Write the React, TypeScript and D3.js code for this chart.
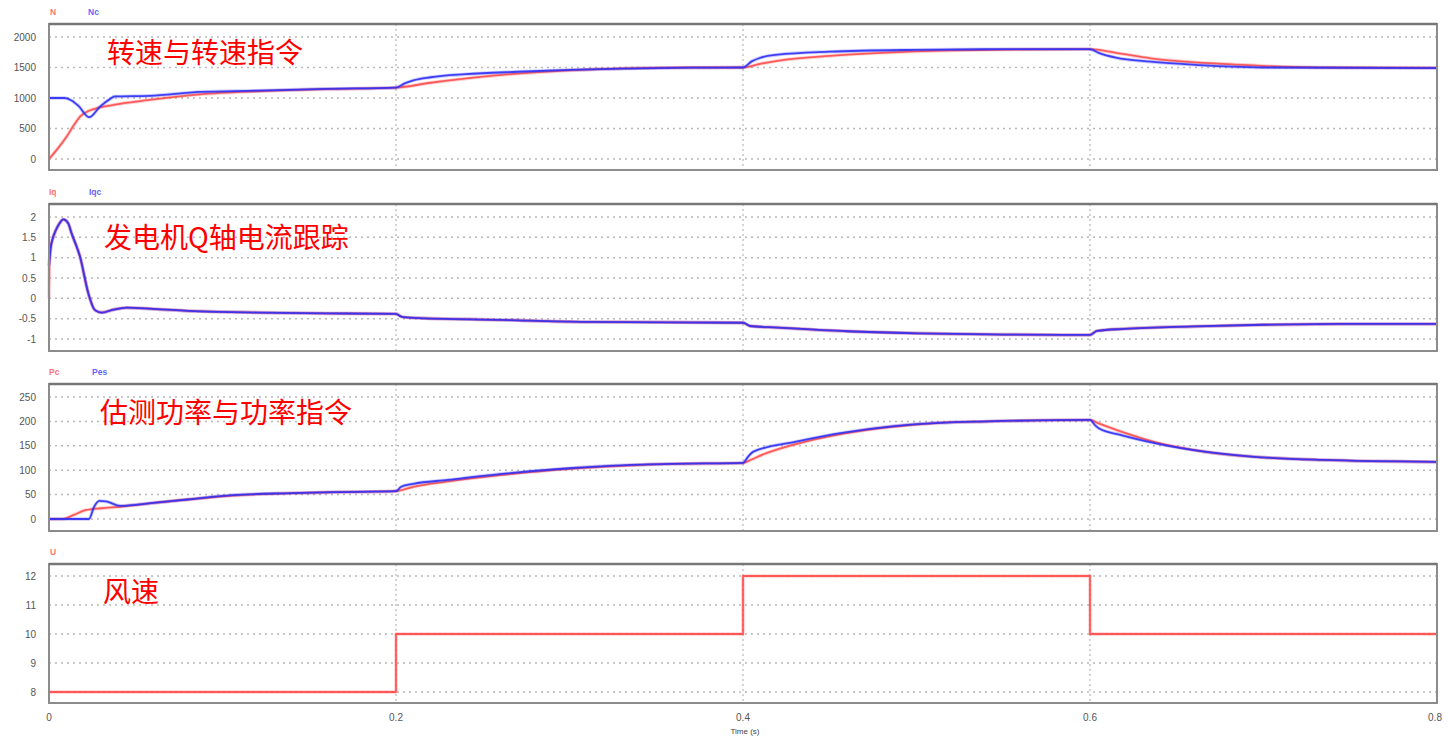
import * as d3 from "d3";

type Pt = [number, number];

// time axis
const timeTicks = [0, 0.2, 0.4, 0.6, 0.8];
const timeTickLabels = ["0", "0.2", "0.4", "0.6", "0.8"];

// speed N and its command Nc
const speedN: Pt[] = [
  [0, 0], [0.005, 170], [0.01, 360], [0.014, 540], [0.018, 700], [0.023, 790],
  [0.03, 850], [0.04, 900], [0.058, 970], [0.087, 1060], [0.12, 1110], [0.16, 1145],
  [0.2, 1170], [0.22, 1250], [0.25, 1350], [0.28, 1420], [0.31, 1465], [0.34, 1490],
  [0.37, 1500], [0.4, 1500], [0.41, 1560], [0.42, 1610], [0.45, 1690], [0.48, 1740],
  [0.52, 1780], [0.56, 1795], [0.6, 1800], [0.615, 1740], [0.635, 1650], [0.663, 1579],
  [0.682, 1552], [0.711, 1513], [0.74, 1500], [0.8, 1495],
];
const speedNc: Pt[] = [
  [0, 1000], [0.009, 1000], [0.013, 960], [0.017, 870], [0.0232, 685], [0.0294, 858],
  [0.035, 980], [0.038, 1025], [0.058, 1035], [0.087, 1100], [0.12, 1120], [0.16, 1150],
  [0.2, 1170], [0.205, 1240], [0.21, 1290], [0.22, 1340], [0.24, 1390], [0.27, 1430],
  [0.3, 1460], [0.33, 1480], [0.36, 1495], [0.4, 1500], [0.405, 1600], [0.41, 1660],
  [0.42, 1710], [0.45, 1760], [0.5, 1790], [0.55, 1800], [0.6, 1800], [0.605, 1740],
  [0.615, 1660], [0.635, 1595], [0.663, 1540], [0.682, 1513], [0.7, 1500], [0.8, 1490],
];

// q-axis current Iq and its command Iqc
const currentIq: Pt[] = [
  [0, 0], [0.0002, 0.8], [0.001, 1.25], [0.002, 1.45], [0.004, 1.68], [0.006, 1.84],
  [0.0083, 1.94], [0.011, 1.85], [0.013, 1.6], [0.0179, 1.02], [0.0227, 0.12],
  [0.0265, -0.29], [0.0304, -0.35], [0.037, -0.28], [0.0448, -0.23], [0.06, -0.26],
  [0.087, -0.32], [0.12, -0.35], [0.16, -0.37], [0.2, -0.38], [0.203, -0.45],
  [0.21, -0.48], [0.26, -0.53], [0.31, -0.58], [0.4, -0.6], [0.404, -0.68], [0.42, -0.72],
  [0.46, -0.81], [0.5, -0.86], [0.55, -0.89], [0.6, -0.9], [0.604, -0.8], [0.62, -0.75],
  [0.66, -0.69], [0.7, -0.65], [0.75, -0.63], [0.8, -0.63],
];
const currentIqc: Pt[] = [
  [0, 0.8], [0.001, 1.25], [0.002, 1.45], [0.004, 1.68], [0.006, 1.84],
  [0.0083, 1.94], [0.011, 1.85], [0.013, 1.6], [0.0179, 1.02], [0.0227, 0.12],
  [0.0265, -0.29], [0.0304, -0.35], [0.037, -0.28], [0.0448, -0.23], [0.06, -0.26],
  [0.087, -0.32], [0.12, -0.35], [0.16, -0.37], [0.2, -0.38], [0.203, -0.45],
  [0.21, -0.48], [0.26, -0.53], [0.31, -0.58], [0.4, -0.6], [0.404, -0.68], [0.42, -0.72],
  [0.46, -0.81], [0.5, -0.86], [0.55, -0.89], [0.6, -0.9], [0.604, -0.8], [0.62, -0.75],
  [0.66, -0.69], [0.7, -0.65], [0.75, -0.63], [0.8, -0.63],
];

// power command Pc and estimated power Pes
const powerPc: Pt[] = [
  [0, 0], [0.008, 0], [0.014, 8], [0.021, 18], [0.03, 22], [0.041, 25], [0.06, 33],
  [0.08, 40], [0.106, 48], [0.14, 53], [0.164, 55], [0.2, 57], [0.21, 66], [0.23, 77],
  [0.26, 90], [0.3, 103], [0.33, 109], [0.36, 113], [0.4, 115], [0.405, 122], [0.41, 130],
  [0.43, 153], [0.458, 175], [0.486, 189], [0.513, 197], [0.541, 200], [0.6, 203],
  [0.605, 196], [0.618, 179], [0.638, 157], [0.666, 138], [0.693, 128], [0.734, 121],
  [0.8, 117],
];
const powerPes: Pt[] = [
  [0, 0], [0.023, 0], [0.026, 25], [0.029, 37], [0.033, 36], [0.041, 27], [0.06, 33],
  [0.08, 40], [0.106, 49], [0.14, 53], [0.164, 55], [0.2, 57], [0.203, 66], [0.21, 72],
  [0.23, 80], [0.26, 92], [0.3, 104], [0.33, 110], [0.36, 113], [0.4, 115], [0.403, 128],
  [0.406, 138], [0.43, 158], [0.458, 177], [0.486, 190], [0.513, 197], [0.541, 200],
  [0.6, 203], [0.603, 192], [0.605, 186], [0.618, 172], [0.638, 155], [0.666, 138],
  [0.693, 128], [0.734, 121], [0.8, 117],
];

// wind speed U
const windU: Pt[] = [
  [0, 8], [0.2, 8], [0.2, 10], [0.4, 10], [0.4, 12], [0.6, 12], [0.6, 10], [0.8, 10],
];

const speedTicks = [0, 500, 1000, 1500, 2000];
const currentTicks = [-1, -0.5, 0, 0.5, 1, 1.5, 2];
const powerTicks = [0, 50, 100, 150, 200, 250];
const windTicks = [8, 9, 10, 11, 12];

const RED = "#ff4545";
const BLUE = "#2f2ff5";

const panels = [
  {
    title: "转速与转速指令", titleX: 107, titleY: 63,
    top: 24, bottom: 170, tickLo: 159, tickHi: 37, ticks: speedTicks,
    names: ["N", "Nc"], nameX: [50, 88], smooth: true,
    series: [speedN, speedNc],
  },
  {
    title: "发电机Q轴电流跟踪", titleX: 104, titleY: 248,
    top: 204, bottom: 351, tickLo: 339, tickHi: 217, ticks: currentTicks,
    names: ["Iq", "Iqc"], nameX: [49, 89], smooth: true,
    series: [currentIq, currentIqc],
  },
  {
    title: "估测功率与功率指令", titleX: 100, titleY: 423,
    top: 384, bottom: 531, tickLo: 519, tickHi: 397, ticks: powerTicks,
    names: ["Pc", "Pes"], nameX: [49, 92], smooth: true,
    series: [powerPc, powerPes],
  },
  {
    title: "风速", titleX: 103, titleY: 602,
    top: 564, bottom: 703, tickLo: 692, tickHi: 576, ticks: windTicks,
    names: ["U"], nameX: [50], smooth: false,
    series: [windU],
  },
];

const W = 1448;
const H = 738;
const left = 49;
const right = 1437;

export default function App() {
  const x = d3.scaleLinear().domain([0, 0.8]).range([left, right]);

  return (
    <svg
      width={W}
      height={H}
      style={{ position: "absolute", left: 0, top: 0, background: "#fff" }}
      fontFamily="Liberation Sans, Arial, sans-serif"
    >
      {panels.map((p, pi) => {
        const lo = p.ticks[0];
        const hi = p.ticks[p.ticks.length - 1];
        const y = d3.scaleLinear().domain([lo, hi]).range([p.tickLo, p.tickHi]);
        const line = d3
          .line<Pt>()
          .x(d => x(d[0]))
          .y(d => y(d[1]))
          .curve(p.smooth ? d3.curveMonotoneX : d3.curveLinear);
        return (
          <g key={pi}>
            {/* legend names */}
            {p.names.map((n, i) => (
              <text
                key={n}
                x={p.nameX[i]}
                y={p.top - 9}
                fontSize={8.5}
                fontWeight="bold"
                fill={i === 0 ? RED : BLUE}
                opacity={0.75}
              >
                {n}
              </text>
            ))}
            {/* horizontal grid */}
            {p.ticks.map(t => (
              <line
                key={"h" + t}
                x1={left}
                x2={right}
                y1={y(t)}
                y2={y(t)}
                stroke="#b8b8b8"
                strokeWidth={1.5}
                strokeDasharray="2,4"
              />
            ))}
            {/* vertical grid */}
            {timeTicks.slice(1, -1).map(t => (
              <line
                key={"v" + t}
                x1={x(t)}
                x2={x(t)}
                y1={p.top}
                y2={p.bottom}
                stroke="#a8a8a8"
                strokeWidth={1}
                strokeDasharray="2,3"
              />
            ))}
            {/* y tick labels */}
            {p.ticks.map(t => (
              <text
                key={"t" + t}
                x={36}
                y={y(t)}
                dy="0.35em"
                textAnchor="end"
                fontSize={10}
                fill="#555"
              >
                {t}
              </text>
            ))}
            {/* series: light halo under each line, then the line */}
            {p.series.map((s, i) => (
              <g key={"s" + i}>
                <path
                  d={line(s) ?? ""}
                  fill="none"
                  stroke={i === 0 ? RED : BLUE}
                  strokeWidth={3.5}
                  strokeOpacity={0.25}
                  strokeLinejoin="round"
                />
                <path
                  d={line(s) ?? ""}
                  fill="none"
                  stroke={i === 0 ? RED : BLUE}
                  strokeWidth={1.8}
                  strokeOpacity={i === 0 ? 0.85 : 0.9}
                  strokeLinejoin="round"
                />
              </g>
            ))}
            {/* frame */}
            <rect
              x={left}
              y={p.top}
              width={right - left}
              height={p.bottom - p.top}
              fill="none"
              stroke="#8c8c8c"
              strokeWidth={2}
            />
            <line x1={left} x2={right} y1={p.top} y2={p.top} stroke="#777" strokeWidth={2.5} />
            <text
              x={p.titleX}
              y={p.titleY}
              fontSize={28}
              fontFamily="Noto Sans CJK SC"
              fill="#ff0000"
            >
              {p.title}
            </text>
          </g>
        );
      })}
      {/* x tick labels */}
      {timeTicks.map((t, i) => (
        <text
          key={"x" + t}
          x={i === timeTicks.length - 1 ? x(t) - 2 : x(t)}
          y={721}
          textAnchor="middle"
          fontSize={10}
          fill="#555"
        >
          {timeTickLabels[i]}
        </text>
      ))}
      <text x={745} y={734} textAnchor="middle" fontSize={8} fill="#444">
        Time (s)
      </text>
    </svg>
  );
}
